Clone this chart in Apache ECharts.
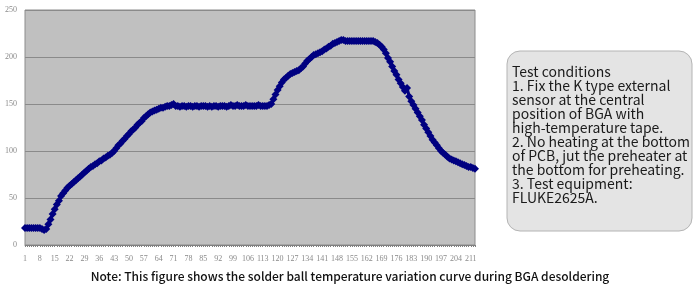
<!DOCTYPE html>
<html>
<head>
<meta charset="utf-8">
<script src="https://cdn.jsdelivr.net/npm/echarts@6/dist/echarts.min.js"></script>
<style>html,body{margin:0;padding:0;background:#fff;}#c{width:700px;height:293px;}</style>
</head>
<body>
<div id="c"></div>
<script>
var categories = [];
for (var k = 1; k <= 213; k++) categories.push(String(k));

var temps = [
 18,18,18,18,18,18,18,18,17,16,
 17,22,27,33,38,43,47,52,55,58,
 61,63,65,67,69,71,73,75,77,79,
 81,83,84,86,87,89,90,92,93,95,
 96,98,100,103,106,108,111,113,116,118,
 121,123,125,128,130,132,135,137,139,141,
 142,143,144,145,146,146,147,148,148,149,
 150,148,148,147,148,148,147,148,148,147,
 148,148,147,148,148,148,147,148,147,148,
 148,147,148,148,148,147,148,149,148,148,
 149,148,148,148,149,148,148,148,148,148,
 149,148,148,148,148,149,150,155,160,165,
 169,173,176,178,180,182,183,184,185,186,
 188,190,193,196,198,200,202,203,204,205,
 206,208,209,211,212,214,215,216,217,218,
 218,217,217,217,217,217,217,217,217,217,
 217,217,217,217,217,216,215,213,211,208,
 204,199,195,190,185,181,176,172,168,164,
 167,158,153,149,145,141,137,133,128,124,
 120,116,112,109,106,103,100,98,96,94,
 92,91,90,89,88,87,86,85,84,83,
 83,82,81
];

var yTicks = { min: 0, max: 250, interval: 50 };

var noteLines = [
 'Test conditions',
 '1. Fix the K type external',
 'sensor at the central',
 'position of BGA with',
 'high-temperature tape.',
 '2. No heating at the bottom',
 'of PCB, jut the preheater at',
 'the bottom for preheating.',
 '3. Test equipment:',
 'FLUKE2625A.'
];
var caption = 'Note: This figure shows the solder ball temperature variation curve during BGA desoldering';

var chart = echarts.init(document.getElementById('c'));
chart.setOption({
  animation: false,
  backgroundColor: '#ffffff',
  grid: { left: 25, right: 225, top: 10, bottom: 48, show: true, backgroundColor: '#c0c0c0', borderColor: '#8c8c8c', borderWidth: 1 },
  xAxis: {
    type: 'category', data: categories, boundaryGap: false,
    axisLine: { lineStyle: { color: '#808080' } },
    axisTick: { show: true, interval: 0, length: 2, lineStyle: { color: '#808080' } },
    axisLabel: { interval: 6, color: '#8a8a8a', fontFamily: 'Liberation Serif', fontSize: 8, margin: 10 },
    splitLine: { show: false }
  },
  yAxis: {
    type: 'value', min: yTicks.min, max: yTicks.max, interval: yTicks.interval,
    axisLine: { show: false }, axisTick: { show: false },
    axisLabel: { color: '#8a8a8a', fontFamily: 'Liberation Serif', fontSize: 8, margin: 8 },
    splitLine: { lineStyle: { color: '#8a8a8a', width: 1 } }
  },
  series: [{
    type: 'line', data: temps, symbol: 'diamond', symbolSize: 8, showAllSymbol: true,
    lineStyle: { color: '#000080', width: 3 },
    itemStyle: { color: '#000080' }
  }],
  graphic: [
    { type: 'rect', shape: { x: 507, y: 51, width: 185, height: 180, r: 13 },
      style: { fill: '#e4e4e4', stroke: '#b4b4b4', lineWidth: 1 } },
    { type: 'text', left: 512, top: 65,
      style: { text: noteLines.join('\n'), fill: '#1a1a1a', font: '14px "Noto Sans CJK SC"', lineHeight: 14 } },
    { type: 'text', left: 'center', top: 270,
      style: { text: caption, fill: '#111111', font: '500 12px "Noto Sans CJK SC"' } }
  ]
});
</script>
</body>
</html>
